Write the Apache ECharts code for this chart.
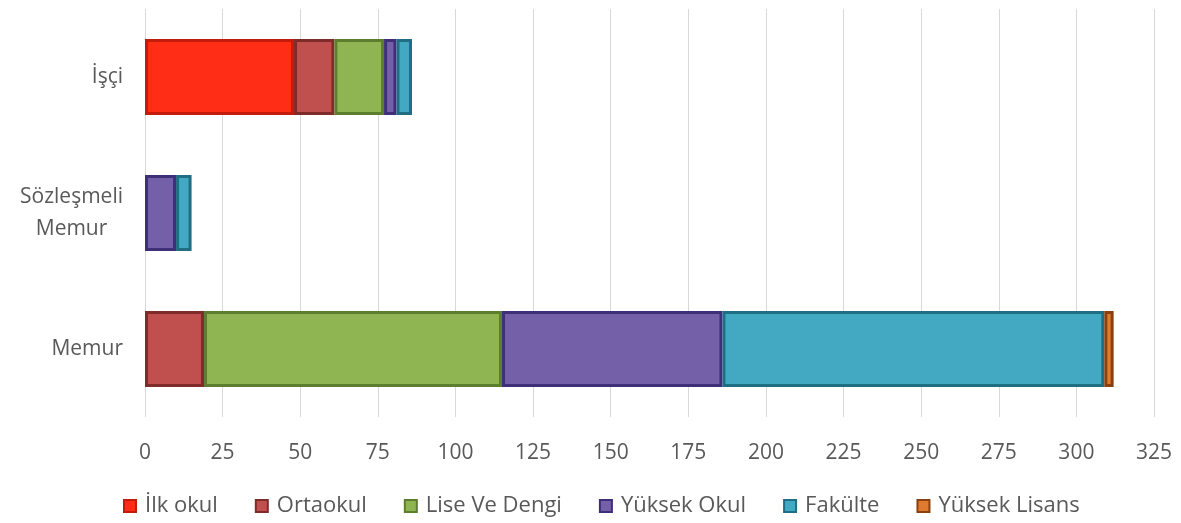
<!DOCTYPE html>
<html>
<head>
<meta charset="utf-8">
<script src="https://cdn.jsdelivr.net/npm/echarts@6/dist/echarts.min.js"></script>
<style>
  html, body { margin: 0; padding: 0; background: #fff; }
  #chart { width: 1181px; height: 523px; }
</style>
</head>
<body>
<div id="chart"></div>
<script>
const categories = ['Memur', 'Sözleşmeli\nMemur', 'İşçi']
const seriesNames = ['İlk okul', 'Ortaokul', 'Lise Ve Dengi', 'Yüksek Okul', 'Fakülte', 'Yüksek Lisans']
// values per category: Memur, Sözleşmeli Memur, İşçi
const ilkOkul = [0, 0, 48]
const ortaokul = [19, 0, 13]
const liseVeDengi = [96, 0, 16]
const yuksekOkul = [71, 10, 4]
const fakulte = [123, 5, 5]
const yuksekLisans = [3, 0, 0]
const xTicks = [0, 25, 50, 75, 100, 125, 150, 175, 200, 225, 250, 275, 300, 325]

const COLORS = ['#FF2D16', '#C0504D', '#8FB553', '#7460A8', '#43A9C2', '#E07A2E']
const BORDERS = ['#C41C0C', '#7E2C2A', '#5C7E2E', '#3D2F78', '#1F6E84', '#8A4010']
const FONT = 'Open Sans, sans-serif'

const chart = echarts.init(document.getElementById('chart'))
const values = [ilkOkul, ortaokul, liseVeDengi, yuksekOkul, fakulte, yuksekLisans]

const series = seriesNames.map((name, i) => ({
  name,
  type: 'bar',
  stack: 'total',
  barWidth: '56%',
  data: values[i].map((v) => (v === 0 ? null : v)),
  itemStyle: {
    color: COLORS[i],
    borderColor: BORDERS[i],
    borderWidth: 3
  }
}))

chart.setOption({
  animation: false,
  textStyle: { fontFamily: FONT },
  grid: { left: 145, right: 27, top: 9, bottom: 106, containLabel: false },
  legend: {
    data: seriesNames,
    bottom: 1,
    left: 118,
    icon: 'rect',
    itemWidth: 12,
    itemHeight: 12,
    itemGap: 37,
    textStyle: { color: '#595959', fontSize: 22, fontFamily: FONT, padding: [0, 0, 0, 4] }
  },
  xAxis: {
    type: 'value',
    min: 0,
    max: 325,
    interval: 25,
    axisLine: { show: false },
    axisTick: { show: false },
    axisLabel: {
      color: '#595959',
      fontSize: 21,
      margin: 26,
      formatter: (v) => (xTicks.includes(v) ? String(v) : '')
    },
    splitLine: { show: true, lineStyle: { color: '#D9D9D9', width: 1 } }
  },
  yAxis: {
    type: 'category',
    data: categories,
    axisLine: { show: false },
    axisTick: { show: false },
    axisLabel: {
      color: '#595959',
      fontSize: 21,
      margin: 22,
      align: 'right',
      formatter: (v) => v.split('\n').map((s) => '{c|' + s + '}').join('\n'),
      rich: {
        c: { align: 'center', fontSize: 21, lineHeight: 32, color: '#595959', fontFamily: FONT }
      }
    }
  },
  series
})
</script>
</body>
</html>
